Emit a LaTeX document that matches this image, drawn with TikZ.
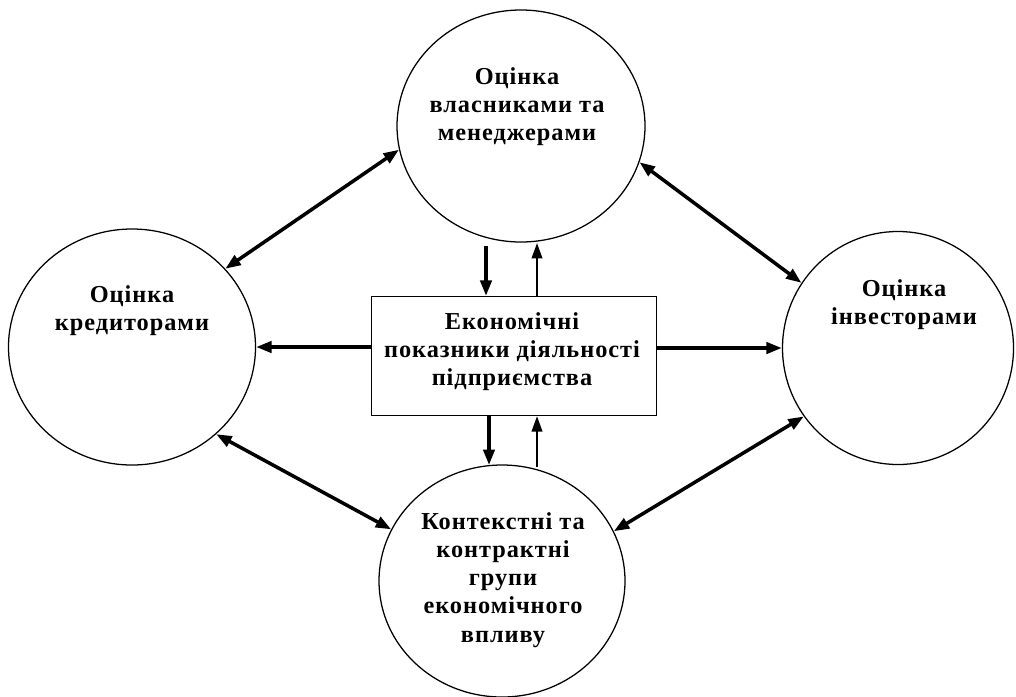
\documentclass[tikz,border=0pt]{standalone}
\usepackage{fontspec}
\setmainfont{Liberation Serif}
\newfontfamily\lblfont[LetterSpace=4]{Liberation Serif}
\usetikzlibrary{shapes.geometric,arrows.meta}
\tikzset{
  party/.style={draw,ellipse,line width=0.9pt,inner sep=0pt},
  lbl/.style={align=center,font=\lblfont\bfseries\fontsize{17.3}{20}\selectfont},
  biarr/.style={line width=2.5pt,{Triangle[length=11pt,width=8pt]}-{Triangle[length=11pt,width=8pt]}},
  arr/.style={line width=2.5pt,-{Triangle[length=11pt,width=8pt]}},
  thinarr/.style={line width=1.6pt,-{Triangle[length=11pt,width=7.5pt]}}
}
\begin{document}
\begin{tikzpicture}[x=0.25mm,y=-0.25mm]
      \useasboundingbox (0,0) rectangle (1016,696);
      \node[party,minimum width=248*0.25mm,minimum height=232*0.25mm] (own) at (521,126) {};
      \node[party,minimum width=247*0.25mm,minimum height=236*0.25mm] (cred) at (132,347) {};
      \node[party,minimum width=231*0.25mm,minimum height=233*0.25mm] (inv) at (898,348) {};
      \node[party,minimum width=246*0.25mm,minimum height=232*0.25mm] (grp) at (502,581) {};
      \node[draw,line width=0.9pt,minimum width=285*0.25mm,minimum height=119*0.25mm] (ind) at (514,356) {};
      \node[lbl] (ownT) at (517,107) {Оцінка\\власниками та\\менеджерами};
      \node[lbl] (credT) at (132,311) {Оцінка\\кредиторами};
      \node[lbl] (invT) at (904,305) {Оцінка\\інвесторами};
      \node[lbl] (grpT) at (503,580) {Контекстні та\\контрактні\\групи\\економічного\\впливу};
      \node[lbl] (indT) at (512,352) {Економічні\\показники діяльності\\підприємства};
      \draw[biarr] (cred.40) -- (own.191.7);
      \draw[biarr] (own.343.4) -- (inv.146.6);
      \draw[biarr] (cred.314.7) -- (grp.155);
      \draw[biarr] (grp.24.4) -- (inv.216.4);
      \draw[arr] (ind.west |- cred.east) -- (cred.east);
      \draw[arr] (ind.east |- inv.west) -- (inv.west);
      \coordinate (ownOut) at (486,246);
      \coordinate (ownIn) at (537,243);
      \coordinate (grpIn) at (489,465);
      \coordinate (grpOut) at (537,467);
      \draw[arr] (ownOut) -- (ownOut |- ind.north);
      \draw[thinarr] (ownIn |- ind.north) -- (ownIn);
      \draw[arr] (grpIn |- ind.south) -- (grpIn);
      \draw[thinarr] (grpOut) -- (grpOut |- ind.south);
    \end{tikzpicture}
\end{document}
